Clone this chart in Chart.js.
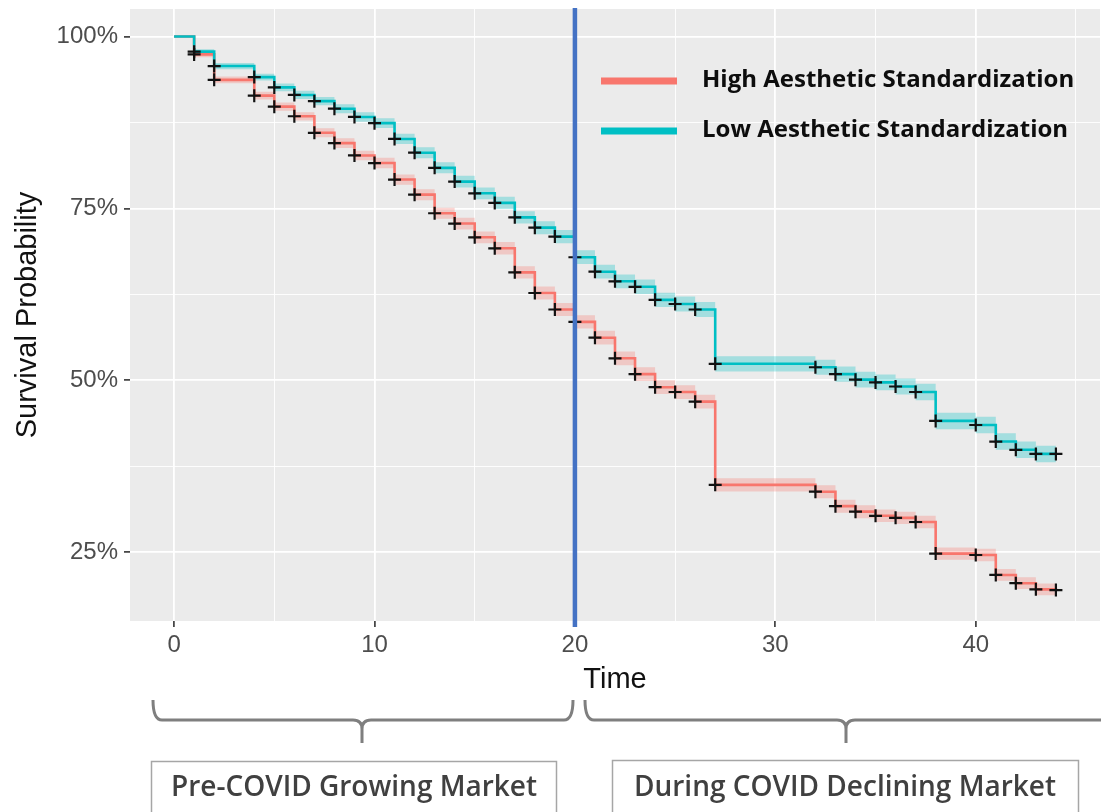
<!DOCTYPE html>
<html lang="en">
<head>
<meta charset="UTF-8">
<title>Survival Probability by Aesthetic Standardization</title>
<script src="https://cdn.jsdelivr.net/npm/chart.js"></script>
<style>
  html, body { margin: 0; padding: 0; background: #ffffff; }
  #wrap { width: 1101px; height: 812px; position: relative; }
</style>
</head>
<body>
<div id="wrap"><canvas id="survivalChart" width="1101" height="812"></canvas></div>
<script>
// event / censor times
const times = [0, 1, 2, 4, 5, 6, 7, 8, 9, 10, 11, 12, 13, 14, 15, 16, 17, 18, 19, 20,
               21, 22, 23, 24, 25, 26, 27, 32, 33, 34, 35, 36, 37, 38, 40, 41, 42, 43, 44];

// Kaplan-Meier estimates (%)
const highSurvival = [100, 97.4, 93.7, 91.4, 89.8, 88.4, 86.0, 84.5, 82.7, 81.6, 79.2, 77.0, 74.3,
                      72.8, 70.8, 69.2, 65.7, 62.7, 60.3, 58.5, 56.2, 53.2, 50.9, 49.0, 48.3, 46.9,
                      34.8, 33.8, 31.7, 30.9, 30.3, 30.0, 29.4, 24.8, 24.6, 21.7, 20.5, 19.6, 19.5];
const lowSurvival = [100, 97.8, 95.7, 94.1, 92.6, 91.5, 90.6, 89.5, 88.3, 87.4, 85.1, 83.1, 80.9,
                     78.9, 77.2, 75.8, 73.7, 72.2, 70.9, 67.9, 65.8, 64.4, 63.6, 61.7, 61.1, 60.3,
                     52.4, 51.9, 50.9, 50.1, 49.7, 49.1, 48.3, 44.1, 43.5, 41.1, 39.9, 39.3, 39.3];

// half width of the confidence ribbon (%)
const highCiHalf = [0, 0.4, 0.5, 0.55, 0.6, 0.6, 0.65, 0.7, 0.7, 0.75, 0.75, 0.8, 0.8, 0.85, 0.85,
                    0.9, 0.9, 0.95, 0.95, 0.95, 1.0, 1.0, 1.0, 1.0, 1.0, 1.0, 0.95, 0.95, 0.95, 0.95,
                    0.9, 0.9, 0.9, 0.9, 0.9, 0.85, 0.85, 0.85, 0.85];
const lowCiHalf = [0, 0.35, 0.45, 0.5, 0.55, 0.6, 0.6, 0.65, 0.7, 0.7, 0.75, 0.8, 0.8, 0.85, 0.85,
                   0.9, 0.9, 0.95, 0.95, 1.0, 1.0, 1.0, 1.05, 1.05, 1.1, 1.1, 1.1, 1.1, 1.1, 1.15,
                   1.15, 1.15, 1.2, 1.2, 1.2, 1.2, 1.2, 1.2, 1.2];

const seriesNames = ['High Aesthetic Standardization', 'Low Aesthetic Standardization'];
const periodLabels = ['Pre-COVID Growing Market', 'During COVID Declining Market'];
const covidStart = 20;

const RED = '#F8766D';
const CYAN = '#00BFC4';

const pts = (vals) => times.map((t, i) => ({ x: t, y: vals[i] }));
const shifted = (vals, half, sign) => times.map((t, i) => ({ x: t, y: vals[i] + sign * half[i] }));

function band(vals, half, color, order) {
    return [
        { data: shifted(vals, half, -1), stepped: true, borderWidth: 0, pointRadius: 0, fill: false, order: order },
        { data: shifted(vals, half, 1), stepped: true, borderWidth: 0, pointRadius: 0, fill: '-1', backgroundColor: color, order: order }
    ];
}

function censors(vals) {
    return {
        data: pts(vals).slice(1), showLine: false, pointStyle: 'cross', pointRadius: 6.5,
        pointBorderWidth: 2.2, pointBorderColor: '#111111', pointHoverRadius: 6.5, order: 0
    };
}

// gray panel like ggplot
const panelBg = {
    id: 'panelBg',
    beforeDraw(chart) {
        const { ctx, chartArea: a } = chart;
        ctx.save();
        ctx.fillStyle = '#EBEBEB';
        ctx.fillRect(a.left, a.top, a.right - a.left, a.bottom - a.top);
        ctx.restore();
    }
};

// vertical marker at the start of COVID
const covidLine = {
    id: 'covidLine',
    afterDatasetsDraw(chart) {
        const { ctx, chartArea: a, scales } = chart;
        const x = scales.x.getPixelForValue(covidStart);
        ctx.save();
        ctx.strokeStyle = '#4472C4';
        ctx.lineWidth = 4.5;
        ctx.beginPath();
        ctx.moveTo(x, a.top - 1);
        ctx.lineTo(x, a.bottom + 6);
        ctx.stroke();
        ctx.restore();
    }
};

function drawBrace(ctx, x1, x2, mid, yTop, yBar, yTip, r) {
    ctx.beginPath();
    ctx.moveTo(x1, yTop);
    ctx.quadraticCurveTo(x1, yBar, x1 + r, yBar);
    ctx.lineTo(mid - r, yBar);
    ctx.quadraticCurveTo(mid, yBar, mid, yBar + r);
    ctx.lineTo(mid, yTip);
    ctx.moveTo(mid, yBar + r);
    ctx.quadraticCurveTo(mid, yBar, mid + r, yBar);
    ctx.lineTo(x2 - r, yBar);
    ctx.quadraticCurveTo(x2, yBar, x2, yTop);
    ctx.stroke();
}

// legend inside the panel plus the period braces and boxes below
const extras = {
    id: 'extras',
    afterDraw(chart) {
        const ctx = chart.ctx;
        ctx.save();
        // legend
        const colors = [RED, CYAN];
        const rows = [81, 131];
        ctx.lineCap = 'butt';
        ctx.font = 'bold 24px "Open Sans", Lato, sans-serif';
        ctx.textBaseline = 'middle';
        ctx.textAlign = 'left';
        rows.forEach((y, i) => {
            ctx.strokeStyle = colors[i];
            ctx.lineWidth = 7;
            ctx.beginPath();
            ctx.moveTo(601, y);
            ctx.lineTo(677, y);
            ctx.stroke();
            ctx.fillStyle = '#0D0D0D';
            ctx.fillText(seriesNames[i], 702, y - 1);
        });

        // braces
        ctx.strokeStyle = '#7F7F7F';
        ctx.lineWidth = 3;
        drawBrace(ctx, 153, 573, 362, 700, 720, 743, 9);
        drawBrace(ctx, 585, 1112, 846, 700, 720, 743, 9);

        // period boxes
        ctx.strokeStyle = '#A6A6A6';
        ctx.lineWidth = 1.5;
        ctx.strokeRect(151.5, 761.5, 405, 60);
        ctx.strokeRect(612.5, 760.5, 466, 60);
        ctx.fillStyle = '#404040';
        ctx.font = '600 28px "Open Sans", Lato, sans-serif';
        ctx.textAlign = 'center';
        ctx.fillText(periodLabels[0], 354, 788);
        ctx.fillText(periodLabels[1], 845, 788);
        ctx.restore();
    }
};

Chart.defaults.font.family = '"Liberation Sans", Arial, sans-serif';

const isMajorX = (v) => v % 10 === 0;
const isMajorY = (v) => v % 25 === 0;

new Chart(document.getElementById('survivalChart'), {
    type: 'line',
    data: {
        datasets: [
            censors(highSurvival),
            censors(lowSurvival),
            { data: pts(lowSurvival), stepped: true, borderColor: CYAN, borderWidth: 2.6, pointRadius: 0, fill: false, order: 1 },
            { data: pts(highSurvival), stepped: true, borderColor: RED, borderWidth: 2.6, pointRadius: 0, fill: false, order: 2 },
            ...band(lowSurvival, lowCiHalf, 'rgba(0, 191, 196, 0.3)', 3),
            ...band(highSurvival, highCiHalf, 'rgba(248, 118, 109, 0.3)', 4)
        ]
    },
    options: {
        responsive: false,
        animation: false,
        events: [],
        layout: { autoPadding: false, padding: { left: 0, top: 9, right: 1, bottom: 111 } },
        plugins: {
            legend: { display: false },
            tooltip: { enabled: false }
        },
        scales: {
            x: {
                type: 'linear',
                min: -2.2,
                max: 46.2,
                afterFit: (s) => {
                    s.height = 80;
                    s.paddingLeft = 0;
                    s.paddingRight = 0;
                },
                border: { display: false },
                grid: {
                    color: '#FFFFFF',
                    lineWidth: (c) => (c.tick && isMajorX(c.tick.value) ? 1.8 : 0.9),
                    tickLength: 6,
                    tickWidth: 1.6,
                    tickColor: (c) => (c.tick && isMajorX(c.tick.value) ? '#333333' : 'rgba(0,0,0,0)')
                },
                ticks: {
                    stepSize: 5,
                    includeBounds: false,
                    autoSkip: false,
                    maxRotation: 0,
                    padding: 4,
                    color: '#4D4D4D',
                    font: { size: 24 },
                    callback: (v) => (isMajorX(v) ? String(v) : '')
                },
                title: {
                    display: true,
                    text: 'Time',
                    color: '#111111',
                    font: { size: 29 },
                    padding: { top: 0, bottom: 4 }
                }
            },
            y: {
                min: 15,
                max: 104,
                afterFit: (s) => {
                    s.width = 130;
                    s.paddingTop = 0;
                    s.paddingBottom = 0;
                },
                border: { display: false },
                grid: {
                    color: '#FFFFFF',
                    lineWidth: (c) => (c.tick && isMajorY(c.tick.value) ? 1.8 : 0.9),
                    tickLength: 6,
                    tickWidth: 1.6,
                    tickColor: (c) => (c.tick && isMajorY(c.tick.value) ? '#333333' : 'rgba(0,0,0,0)')
                },
                ticks: {
                    stepSize: 12.5,
                    includeBounds: false,
                    autoSkip: false,
                    padding: 6,
                    color: '#4D4D4D',
                    font: { size: 24 },
                    callback: (v) => (isMajorY(v) ? v + '%' : '')
                },
                title: {
                    display: true,
                    text: 'Survival Probability',
                    color: '#111111',
                    font: { size: 29 },
                    padding: { top: 11, bottom: 0 }
                }
            }
        }
    },
    plugins: [panelBg, covidLine, extras]
});
</script>
</body>
</html>
